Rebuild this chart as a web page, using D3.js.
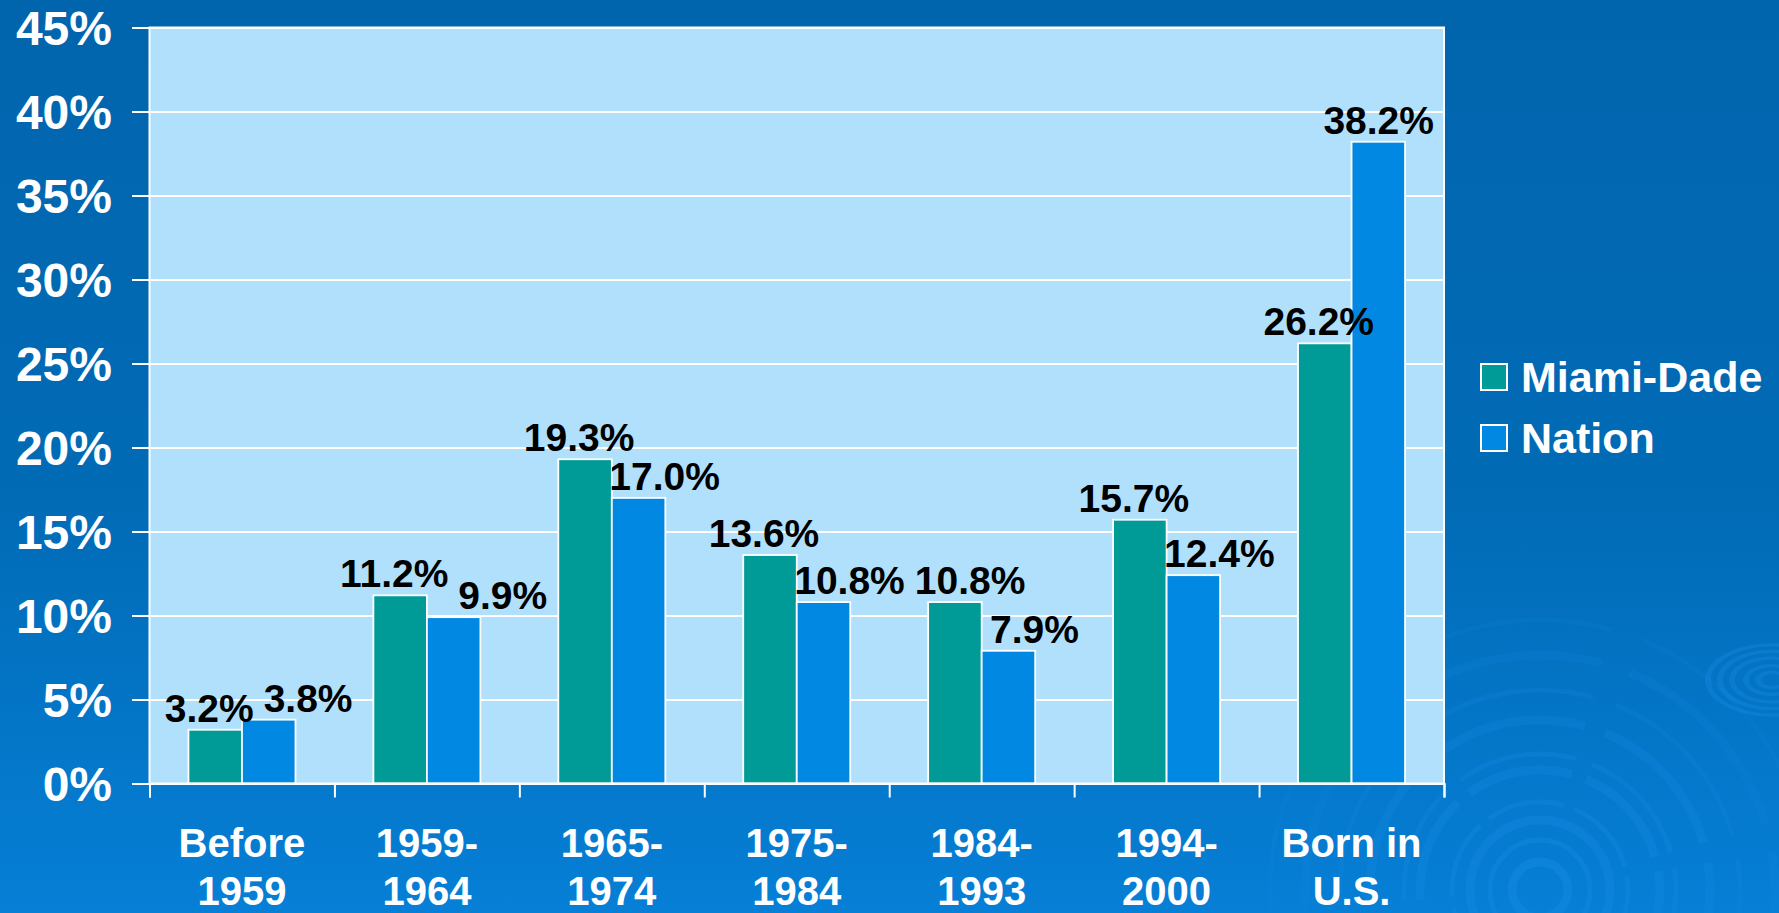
<!DOCTYPE html>
<html>
<head>
<meta charset="utf-8">
<script src="https://cdn.jsdelivr.net/npm/d3@7"></script>
<style>
  body { margin: 0; padding: 0; overflow: hidden; }
  svg { display: block; font-family: "Liberation Sans", Arial, sans-serif; font-weight: bold; }
</style>
</head>
<body>
<div id="chart"></div>
<script>
// Chart data
var categoryLines = [
  ["Before", "1959"],
  ["1959-", "1964"],
  ["1965-", "1974"],
  ["1975-", "1984"],
  ["1984-", "1993"],
  ["1994-", "2000"],
  ["Born in", "U.S."]
];
var seriesNames = ["Miami-Dade", "Nation"];
var miamiDade = [3.2, 11.2, 19.3, 13.6, 10.8, 15.7, 26.2];
var nation = [3.8, 9.9, 17.0, 10.8, 7.9, 12.4, 38.2];
var yTicks = [0, 5, 10, 15, 20, 25, 30, 35, 40, 45];

var colors = { "Miami-Dade": "#009A97", "Nation": "#0088E2" };

// SVG area
var svgWidth = 1779;
var svgHeight = 913;

var margin = { top: 27.5, right: 335, bottom: 129.5, left: 149.5 };
var chartWidth = svgWidth - margin.left - margin.right;
var chartHeight = svgHeight - margin.top - margin.bottom;

var svg = d3.select("#chart")
  .append("svg")
  .attr("width", svgWidth)
  .attr("height", svgHeight);

// background gradient
var defs = svg.append("defs");
var grad = defs.append("linearGradient")
  .attr("id", "bg")
  .attr("x1", 0).attr("y1", 0).attr("x2", 0).attr("y2", 1);
grad.append("stop").attr("offset", "0%").attr("stop-color", "#0165AD");
grad.append("stop").attr("offset", "55%").attr("stop-color", "#016BB6");
grad.append("stop").attr("offset", "100%").attr("stop-color", "#067FD6");

svg.append("rect")
  .attr("width", svgWidth)
  .attr("height", svgHeight)
  .attr("fill", "url(#bg)");

// decorative ripples
var ripples = svg.append("g").attr("fill", "none").attr("stroke", "#1A8BE6");
var bigRings = [28, 50, 70, 88, 120, 136, 170, 200, 235, 270];
ripples.append("g")
  .attr("transform", "translate(1540, 890)")
  .selectAll("circle")
  .data(bigRings)
  .enter()
  .append("circle")
  .attr("r", d => d)
  .attr("stroke-width", (d, i) => i % 2 ? 5 : 9)
  .attr("stroke-dasharray", (d, i) => i < 3 ? null : `${d * 0.9} ${d * 0.12}`)
  .attr("opacity", (d, i) => 0.4 - i * 0.03);
var smallRings = [14, 26, 40, 52, 64];
ripples.append("g")
  .attr("transform", "translate(1772, 680) scale(1, 0.55)")
  .selectAll("circle")
  .data(smallRings)
  .enter()
  .append("circle")
  .attr("r", d => d)
  .attr("stroke-width", 6)
  .attr("opacity", 0.35);

var chartGroup = svg.append("g")
  .attr("transform", `translate(${margin.left}, ${margin.top})`);

// scales
var x0 = d3.scaleBand()
  .domain(d3.range(categoryLines.length))
  .range([0, chartWidth])
  .paddingInner(0)
  .paddingOuter(0);

var x1 = d3.scaleBand()
  .domain(seriesNames)
  .range([0, x0.bandwidth()])
  .paddingInner(0)
  .paddingOuter(0.728);

var yScale = d3.scaleLinear()
  .domain([0, 45])
  .range([chartHeight, 0]);

// plot area
chartGroup.append("rect")
  .attr("width", chartWidth)
  .attr("height", chartHeight)
  .attr("fill", "#B0E0FC");

// gridlines
chartGroup.append("g")
  .call(d3.axisLeft(yScale).tickValues(yTicks).tickSize(-chartWidth).tickFormat(""))
  .call(g => g.select(".domain").remove())
  .call(g => g.selectAll("line").attr("stroke", "white").attr("stroke-width", 2));

// left axis
chartGroup.append("g")
  .call(d3.axisLeft(yScale).tickValues(yTicks).tickSize(17.5).tickPadding(20).tickFormat(d => d + "%"))
  .call(g => g.select(".domain").remove())
  .call(g => g.selectAll("line").attr("stroke", "white").attr("stroke-width", 2))
  .call(g => g.selectAll("text")
    .attr("fill", "white")
    .attr("font-size", "48px")
    .attr("font-family", "'Liberation Sans', Arial, sans-serif")
    .attr("font-weight", "bold")
    .attr("dy", "0.36em"));

// bars
var seriesData = categoryLines.map(function(c, i) {
  return [
    { key: "Miami-Dade", value: miamiDade[i], cat: i },
    { key: "Nation", value: nation[i], cat: i }
  ];
});

var groups = chartGroup.selectAll(".cat")
  .data(seriesData)
  .enter()
  .append("g")
  .attr("class", "cat");

groups.selectAll("rect")
  .data(d => d)
  .enter()
  .append("rect")
  .attr("x", d => x0(d.cat) + x1(d.key))
  .attr("y", d => yScale(d.value))
  .attr("width", x1.bandwidth())
  .attr("height", d => chartHeight - yScale(d.value))
  .attr("fill", d => colors[d.key])
  .attr("stroke", "white")
  .attr("stroke-width", 1.8);

// data labels
var labelShift = { "Miami-Dade": -6, "Nation": 26 };
var labels = groups.selectAll("text")
  .data(d => d)
  .enter()
  .append("text")
  .attr("x", d => x0(d.cat) + x1(d.key) + x1.bandwidth() / 2 + labelShift[d.key])
  .attr("y", d => yScale(d.value) - 8)
  .attr("text-anchor", "middle")
  .attr("font-size", "39px")
  .attr("fill", "black")
  .text(d => d.value.toFixed(1) + "%");

// keep labels from colliding and inside the plot
var prev = null;
labels.each(function(d) {
  var el = d3.select(this);
  var w = this.getComputedTextLength();
  var cx = +el.attr("x");
  var cy = +el.attr("y");
  if (prev && Math.abs(prev.y - cy) < 22 && cx - w / 2 < prev.right + 10) {
    cx = prev.right + 10 + w / 2;
  }
  if (cx + w / 2 > chartWidth - 10) cx = chartWidth - 10 - w / 2;
  el.attr("x", cx);
  prev = { y: cy, right: cx + w / 2 };
});

// plot border
chartGroup.append("rect")
  .attr("width", chartWidth)
  .attr("height", chartHeight)
  .attr("fill", "none")
  .attr("stroke", "white")
  .attr("stroke-width", 2);

// bottom axis with category boundary ticks
var xEdges = d3.scaleLinear().domain([0, categoryLines.length]).range([0, chartWidth]);
chartGroup.append("g")
  .attr("transform", `translate(0, ${chartHeight})`)
  .call(d3.axisBottom(xEdges).tickValues(d3.range(categoryLines.length + 1)).tickSize(14).tickFormat(""))
  .call(g => g.select(".domain").attr("stroke", "white").attr("stroke-width", 2))
  .call(g => g.selectAll("line").attr("stroke", "white").attr("stroke-width", 2));

// category labels
var catLabels = chartGroup.append("g")
  .selectAll("text")
  .data(categoryLines)
  .enter()
  .append("text")
  .attr("text-anchor", "middle")
  .attr("fill", "white")
  .attr("font-size", "40px")
  .attr("transform", (d, i) => `translate(${x0(i) + x0.bandwidth() / 2}, ${chartHeight + 73})`);

catLabels.selectAll("tspan")
  .data(d => d)
  .enter()
  .append("tspan")
  .attr("x", 0)
  .attr("y", (d, i) => i * 48)
  .text(d => d);

// legend
var legend = svg.append("g")
  .attr("transform", "translate(1481, 364)");

var legendItems = legend.selectAll("g")
  .data(seriesNames)
  .enter()
  .append("g")
  .attr("transform", (d, i) => `translate(0, ${i * 61})`);

legendItems.append("rect")
  .attr("width", 26)
  .attr("height", 26)
  .attr("fill", d => colors[d])
  .attr("stroke", "white")
  .attr("stroke-width", 2);

legendItems.append("text")
  .attr("x", 40)
  .attr("y", 28)
  .attr("fill", "white")
  .attr("font-size", "43px")
  .text(d => d);
</script>
</body>
</html>
